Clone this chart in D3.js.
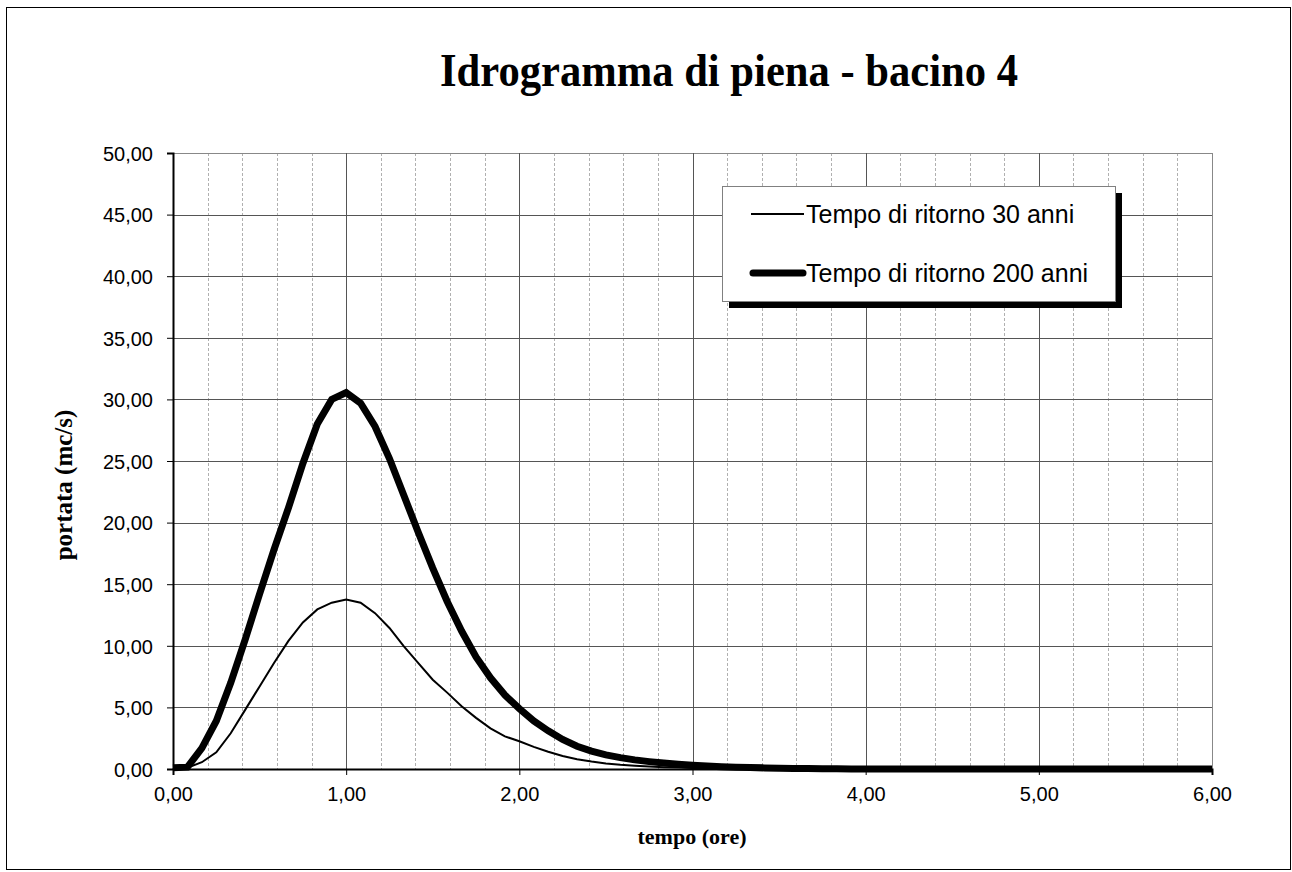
<!DOCTYPE html>
<html>
<head>
<meta charset="utf-8">
<script src="https://cdn.jsdelivr.net/npm/d3@7"></script>
<style>
  body { margin: 0; background: #fff; }
  svg { display: block; }
  .tick text { font-family: "Liberation Sans", Arial, sans-serif; font-size: 20px; fill: #000; }
  .tick line { stroke: #000; }
</style>
</head>
<body>
<div id="chart"></div>
<script>
// tempo in minuti (asse x in ore)
const minutes = [0, 5, 10, 15, 20, 25, 30, 35, 40, 45, 50, 55, 60, 65, 70, 75, 80, 85, 90, 95,
  100, 105, 110, 115, 120, 125, 130, 135, 140, 145, 150, 155, 160, 165, 170, 175, 180, 185, 190, 195,
  200, 205, 210, 215, 220, 225, 230, 235, 240, 360];

// portata (mc/s) - Tr 30 anni
const q30 = [0.05, 0.1, 0.55, 1.35, 2.9, 4.8, 6.7, 8.6, 10.4, 11.9, 12.95, 13.5, 13.75, 13.5, 12.65, 11.45, 9.95, 8.6, 7.25, 6.2,
  5.1, 4.15, 3.3, 2.65, 2.25, 1.8, 1.4, 1.05, 0.8, 0.6, 0.45, 0.34, 0.26, 0.2, 0.15, 0.12, 0.09, 0.07, 0.05, 0.04,
  0.03, 0.02, 0.02, 0.01, 0.01, 0.01, 0, 0, 0, 0];

// portata (mc/s) - Tr 200 anni
const q200 = [0.1, 0.15, 1.7, 3.9, 7.0, 10.5, 14.2, 17.8, 21.2, 24.8, 28.0, 30.0, 30.55, 29.7, 27.8, 25.2, 22.2, 19.2, 16.3, 13.6,
  11.2, 9.1, 7.4, 6.0, 4.9, 3.9, 3.1, 2.4, 1.85, 1.45, 1.15, 0.92, 0.74, 0.6, 0.48, 0.38, 0.3, 0.24, 0.19, 0.15,
  0.12, 0.09, 0.07, 0.05, 0.04, 0.03, 0.02, 0.01, 0.01, 0];

const xTicks = [0, 1, 2, 3, 4, 5, 6];
const xMinor = [0.2, 0.4, 0.6, 0.8, 1.2, 1.4, 1.6, 1.8, 2.2, 2.4, 2.6, 2.8, 3.2, 3.4, 3.6, 3.8,
  4.2, 4.4, 4.6, 4.8, 5.2, 5.4, 5.6, 5.8];
const yTicks = [0, 5, 10, 15, 20, 25, 30, 35, 40, 45, 50];

const seriesNames = ['Tempo di ritorno 30 anni', 'Tempo di ritorno 200 anni'];

const W = 1292, H = 872;
const m = { top: 153, right: 80, bottom: 103, left: 173 };

const it = d3.formatLocale({ decimal: ',', thousands: '.', grouping: [3], currency: ['', '€'] });
const fmt = it.format('.2f');

const svg = d3.select('#chart').append('svg')
  .attr('width', W).attr('height', H);

// cornice esterna
svg.append('rect')
  .attr('x', 6.5).attr('y', 7.5)
  .attr('width', 1284).attr('height', 862)
  .attr('fill', '#fff').attr('stroke', '#000').attr('stroke-width', 1);

const x = d3.scaleLinear().domain([0, 6]).range([m.left, W - m.right]);
const y = d3.scaleLinear().domain([0, 50]).range([H - m.bottom, m.top]);

const grid = svg.append('g');

// griglia minore (tratteggiata)
grid.selectAll('.minor').data(xMinor).join('line')
  .attr('x1', d => Math.round(x(d)) + 0.5).attr('x2', d => Math.round(x(d)) + 0.5)
  .attr('y1', y(50)).attr('y2', y(0))
  .attr('stroke', '#b0b0b0').attr('stroke-dasharray', '3,2');

// griglia principale
grid.selectAll('.hmaj').data(yTicks.slice(1)).join('line')
  .attr('x1', x(0)).attr('x2', x(6))
  .attr('y1', d => Math.round(y(d)) + 0.5).attr('y2', d => Math.round(y(d)) + 0.5)
  .attr('stroke', d => d === 50 ? '#888' : '#555');

grid.selectAll('.vmaj').data(xTicks.slice(1)).join('line')
  .attr('x1', d => Math.round(x(d)) + 0.5).attr('x2', d => Math.round(x(d)) + 0.5)
  .attr('y1', y(50)).attr('y2', y(0))
  .attr('stroke', d => d === 6 ? '#888' : '#555');

// assi
const xAxis = svg.append('g')
  .attr('transform', `translate(0,${y(0)})`)
  .call(d3.axisBottom(x).tickValues(xTicks).tickFormat(fmt).tickSize(6).tickPadding(12));
xAxis.select('.domain').attr('stroke', '#000').attr('stroke-width', 2);

const yAxis = svg.append('g')
  .attr('transform', `translate(${x(0)},0)`)
  .call(d3.axisLeft(y).tickValues(yTicks).tickFormat(fmt).tickSize(6).tickPadding(14));
yAxis.select('.domain').attr('stroke', '#000').attr('stroke-width', 2);
yAxis.selectAll('.tick text').attr('dy', '0.36em');

// linee
const line = (vals) => d3.line()
  .x((d, i) => x(minutes[i] / 60))
  .y(d => y(d))(vals);

svg.append('path')
  .attr('d', line(q30))
  .attr('fill', 'none').attr('stroke', '#000').attr('stroke-width', 2);

svg.append('path')
  .attr('d', line(q200))
  .attr('fill', 'none').attr('stroke', '#000').attr('stroke-width', 7)
  .attr('stroke-linejoin', 'miter');

// titolo
svg.append('text')
  .attr('x', 729).attr('y', 86)
  .attr('text-anchor', 'middle')
  .attr('font-family', '"Liberation Serif", "Times New Roman", serif')
  .attr('font-weight', 'bold').attr('font-size', 47)
  .attr('textLength', 578).attr('lengthAdjust', 'spacingAndGlyphs')
  .text('Idrogramma di piena - bacino 4');

// titoli assi
svg.append('text')
  .attr('x', 692).attr('y', 844)
  .attr('text-anchor', 'middle')
  .attr('font-family', '"Liberation Serif", "Times New Roman", serif')
  .attr('font-weight', 'bold').attr('font-size', 22)
  .text('tempo (ore)');

svg.append('text')
  .attr('transform', 'translate(72,485) rotate(-90)')
  .attr('text-anchor', 'middle')
  .attr('font-family', '"Liberation Serif", "Times New Roman", serif')
  .attr('font-weight', 'bold').attr('font-size', 25)
  .text('portata (mc/s)');

// legenda
const lg = svg.append('g');
lg.append('rect')
  .attr('x', 729).attr('y', 193).attr('width', 393).attr('height', 115)
  .attr('fill', '#000');
lg.append('rect')
  .attr('x', 722.5).attr('y', 186.5).attr('width', 393).attr('height', 115)
  .attr('fill', '#fff').attr('stroke', '#808080');

const lgRows = [
  { name: seriesNames[0], w: 2, cap: 'butt', y: 214 },
  { name: seriesNames[1], w: 7, cap: 'round', y: 273 }
];
lgRows.forEach(r => {
  lg.append('line')
    .attr('x1', r.cap === 'round' ? 753 : 751).attr('x2', r.cap === 'round' ? 803 : 804)
    .attr('y1', r.y).attr('y2', r.y)
    .attr('stroke', '#000').attr('stroke-width', r.w).attr('stroke-linecap', r.cap);
  lg.append('text')
    .attr('x', 806).attr('y', r.y + 9)
    .attr('font-family', '"Liberation Sans", Arial, sans-serif')
    .attr('font-size', 25)
    .text(r.name);
});
</script>
</body>
</html>
